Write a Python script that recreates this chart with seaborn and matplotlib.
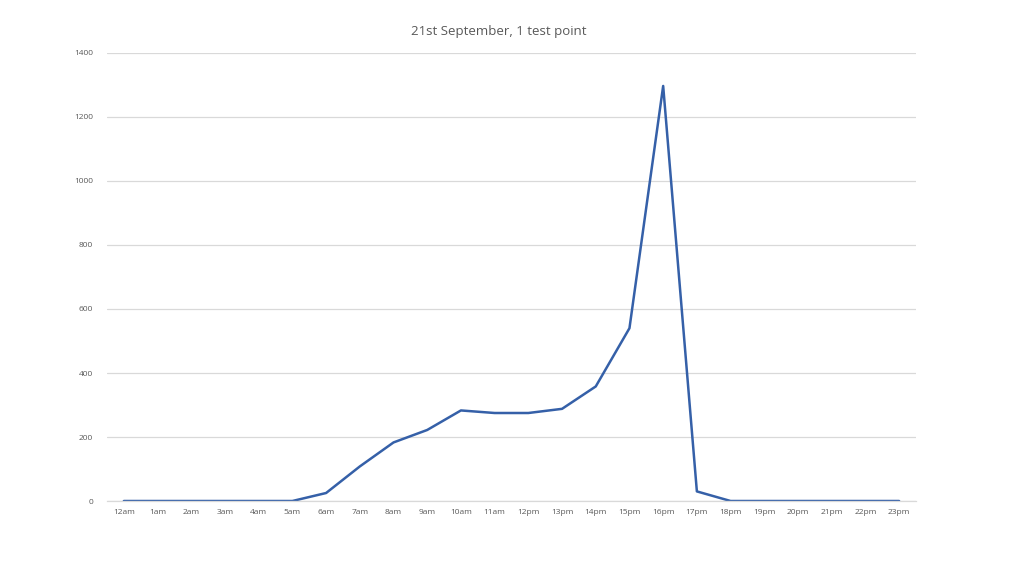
import matplotlib
matplotlib.use("Agg")
import matplotlib.pyplot as plt
import seaborn as sns
import pandas as pd

hours = ["12am", "1am", "2am", "3am", "4am", "5am", "6am", "7am", "8am", "9am",
         "10am", "11am", "12pm", "13pm", "14pm", "15pm", "16pm", "17pm", "18pm",
         "19pm", "20pm", "21pm", "22pm", "23pm"]
values = [0, 0, 0, 0, 0, 0, 25, 108, 183, 222, 283, 275, 275, 288, 358, 540,
          1297, 30, 0, 0, 0, 0, 0, 0]
yticks = [0, 200, 400, 600, 800, 1000, 1200, 1400]
title = "21st September, 1 test point"

sns.set_theme(style="white")
plt.rcParams['font.family'] = ['Open Sans', 'DejaVu Sans']

df = pd.DataFrame({"hour": hours, "value": values, "pos": range(len(hours))})

fig = plt.figure(figsize=(10.24, 5.76), dpi=100)
ax = fig.add_axes([0.1045, 0.1302, 0.79, 0.7778])
sns.lineplot(data=df, x="pos", y="value", ax=ax, color="#3560A8", linewidth=1.8)

ax.set_xlim(-0.5, len(hours) - 0.5)
ax.set_ylim(0, 1400)
ax.set_yticks(yticks)
ax.set_xticks(range(len(hours)))
ax.set_xticklabels(hours)
ax.grid(axis="y", color="#d9d9d9", linewidth=0.9)
ax.set_axisbelow(True)
for s in ["top", "right", "left"]:
    ax.spines[s].set_visible(False)
ax.spines["bottom"].set_color("#d9d9d9")
ax.spines["bottom"].set_linewidth(0.9)
ax.tick_params(axis="both", length=0, labelsize=6, colors="#595959", pad=6)
ax.tick_params(axis="y", pad=10)
ax.set_xlabel("")
ax.set_ylabel("")
fig.text(0.4875, 0.945, title, ha="center", va="center", fontsize=9.5, color="#595959")

fig.savefig("out.png", dpi=100)
